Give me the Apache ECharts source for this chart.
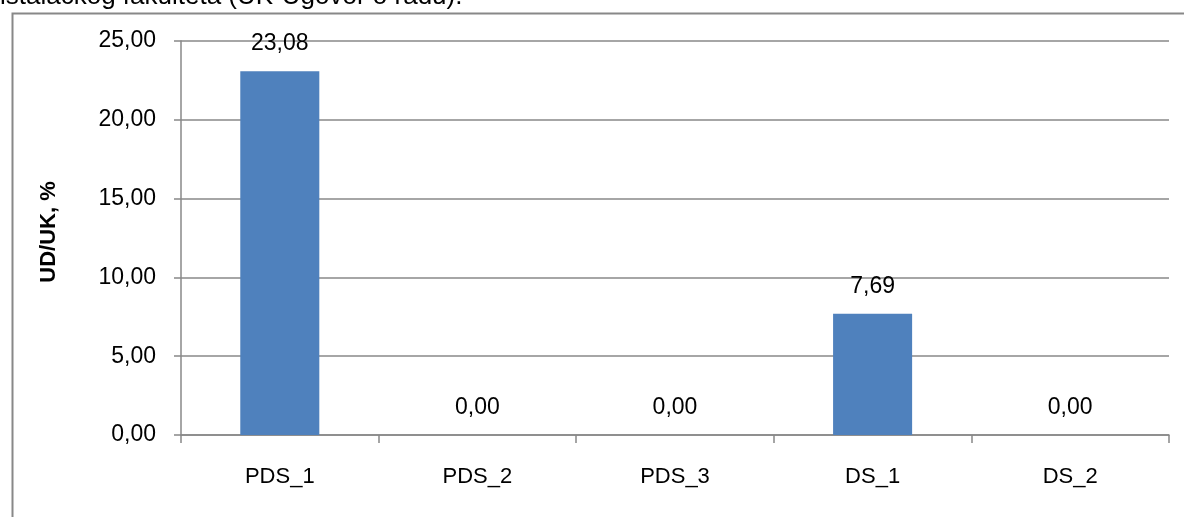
<!DOCTYPE html>
<html>
<head>
<meta charset="utf-8">
<script src="https://cdn.jsdelivr.net/npm/echarts@6/dist/echarts.min.js"></script>
<style>
html,body{margin:0;padding:0;background:#fff;}
#chart{width:1184px;height:517px;}
</style>
</head>
<body>
<div id="chart"></div>
<script>
const categories = ['PDS_1', 'PDS_2', 'PDS_3', 'DS_1', 'DS_2'];
const values = [23.08, 0.00, 0.00, 7.69, 0.00];
const yAxisName = 'UD/UK, %';
const captionText = 'istalačkog fakulteta (UK-Ugovor o radu).';

const fmt = v => Number(v).toFixed(2).replace('.', ',');
const FONT = '"Liberation Sans", Arial, sans-serif';

const chart = echarts.init(document.getElementById('chart'), null, {renderer: 'canvas'});
chart.setOption({
  animation: false,
  backgroundColor: '#fff',
  graphic: [
    {
      type: 'rect', left: 10, top: 11, z: 0,
      shape: {x: 0, y: 0, width: 1400, height: 700},
      style: {fill: 'none', stroke: '#888', lineWidth: 2}
    },
    {
      type: 'text', x: 0, y: -3, z: 1,
      style: {text: captionText, font: '26px ' + FONT, fill: '#000', verticalAlign: 'middle', align: 'left'}
    }
  ],
  grid: {left: 181, top: 41, right: 15, bottom: 82, containLabel: false},
  xAxis: {
    type: 'category',
    data: categories,
    axisLine: {lineStyle: {color: '#888', width: 1.5}},
    axisTick: {show: true, length: 8, lineStyle: {color: '#888', width: 1.5}},
    axisLabel: {color: '#000', fontSize: 22, fontFamily: FONT, margin: 31}
  },
  yAxis: {
    type: 'value',
    min: 0, max: 25, interval: 5,
    name: yAxisName,
    nameLocation: 'middle',
    nameGap: 121,
    nameTextStyle: {color: '#000', fontSize: 22, fontWeight: 'bold', fontFamily: FONT, padding: [0, 0, 0, 12]},
    axisLine: {show: true, lineStyle: {color: '#888', width: 1.5}},
    axisTick: {show: true, length: 7, lineStyle: {color: '#888', width: 1.5}},
    axisLabel: {color: '#000', fontSize: 23, fontFamily: FONT, margin: 25, formatter: fmt},
    splitLine: {show: true, lineStyle: {color: '#888', width: 1.5}}
  },
  series: [{
    type: 'bar',
    data: values,
    barWidth: '40%',
    itemStyle: {color: '#4F81BD'},
    label: {
      show: true, position: 'top', distance: 16,
      color: '#000', fontSize: 23, fontFamily: FONT,
      formatter: p => fmt(p.value)
    }
  }]
});
</script>
</body>
</html>
